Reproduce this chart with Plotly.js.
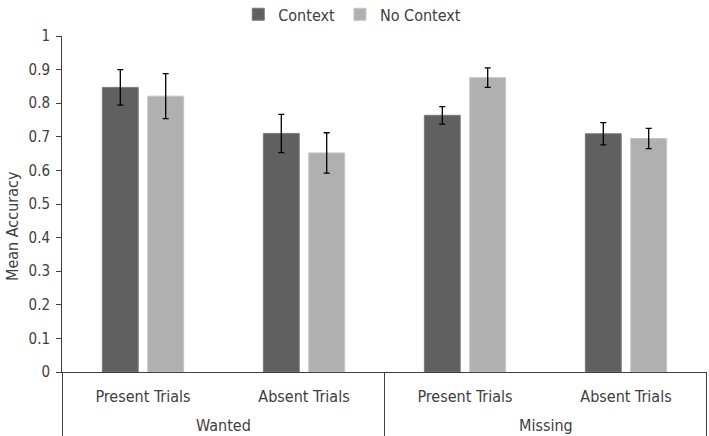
<!DOCTYPE html>
<html>
<head>
<meta charset="utf-8">
<script src="https://cdn.plot.ly/plotly-3.0.1.min.js"></script>
<style>html,body{margin:0;padding:0;background:#fff;}#chart{width:709px;height:436px;}</style>
</head>
<body>
<div id="chart"></div>
<script>
var groups = ["Wanted", "Wanted", "Missing", "Missing"];
var trials = ["Present Trials", "Absent Trials", "Present Trials", "Absent Trials"];
var contextVals = [0.847, 0.710, 0.764, 0.709];
var contextErr = [0.053, 0.057, 0.026, 0.033];
var noContextVals = [0.821, 0.652, 0.876, 0.695];
var noContextErr = [0.067, 0.060, 0.029, 0.030];
var yTitle = "Mean Accuracy";

var FONT = '"DejaVu Sans Condensed", "DejaVu Sans", Verdana, sans-serif';
var TXT = '#404040';
var LINE = '#404040';

// unique category keys built from the two label arrays
var keys = groups.map(function (g, i) { return g + ' | ' + trials[i]; });

var errStyle = {type: 'data', visible: true, color: '#000000', thickness: 1.3, width: 3};

var traces = [
  {type: 'bar', name: 'Context', x: keys, y: contextVals,
   marker: {color: '#606060', line: {color: '#7a7a7a', width: 1}},
   error_y: Object.assign({array: contextErr}, errStyle)},
  {type: 'bar', name: 'No Context', x: keys, y: noContextVals,
   marker: {color: '#b0b0b0', line: {color: '#c4c4c4', width: 1}},
   error_y: Object.assign({array: noContextErr}, errStyle)}
];

// outer group labels and dividers, positioned on the category scale
var uniqueGroups = [];
groups.forEach(function (g) { if (uniqueGroups.indexOf(g) < 0) uniqueGroups.push(g); });
var annotations = uniqueGroups.map(function (g) {
  var idx = [];
  groups.forEach(function (gg, i) { if (gg === g) idx.push(i); });
  var mid = (idx[0] + idx[idx.length - 1]) / 2;
  return {x: mid, xref: 'x', y: -0.158, yref: 'paper', text: g, showarrow: false,
          xanchor: 'center', yanchor: 'middle', font: {family: FONT, size: 16, color: TXT}};
});
// y-axis title, centred on the full axis line (as in the source chart)
annotations.push({x: (12 - 62) / 645, xref: 'paper', xanchor: 'center', y: 0.4345, yref: 'paper',
                  yanchor: 'middle', text: yTitle, textangle: -90, showarrow: false,
                  font: {family: FONT, size: 16, color: TXT}});

var boundaries = [-0.5];
groups.forEach(function (g, i) { if (i > 0 && g !== groups[i - 1]) boundaries.push(i - 0.5); });
boundaries.push(groups.length - 0.5);
var shapes = boundaries.map(function (b) {
  return {type: 'line', xref: 'x', yref: 'paper', x0: b, x1: b, y0: 0, y1: -0.2,
          line: {color: LINE, width: 1}};
});

var layout = {
  width: 709, height: 436,
  margin: {l: 62, r: 2, t: 36, b: 64, autoexpand: false},
  paper_bgcolor: '#ffffff', plot_bgcolor: '#ffffff',
  font: {family: FONT, size: 14, color: TXT},
  barmode: 'group', bargap: 0.436, bargroupgap: 0.21,
  showlegend: true,
  legend: {orientation: 'h', x: 0.45, xanchor: 'center',
           y: 1.115, yanchor: 'top', font: {family: FONT, size: 16, color: TXT}, itemwidth: 30,
           tracegroupgap: 0, valign: 'middle'},
  xaxis: {type: 'category', showline: true, linecolor: LINE, linewidth: 1,
          showgrid: false, ticks: '', tickvals: keys, ticktext: trials,
          ticklabelstandoff: 10, tickfont: {family: FONT, size: 16, color: TXT}},
  yaxis: {range: [0, 1], dtick: 0.1, showline: true, linecolor: LINE, linewidth: 1,
          ticks: 'outside', ticklen: 5, tickcolor: LINE, showgrid: false, zeroline: false,
          ticklabelstandoff: 3,
          tickfont: {family: FONT, size: 15, color: TXT}},
  annotations: annotations,
  shapes: shapes
};

Plotly.newPlot('chart', traces, layout, {displayModeBar: false, staticPlot: true});
</script>
</body>
</html>
